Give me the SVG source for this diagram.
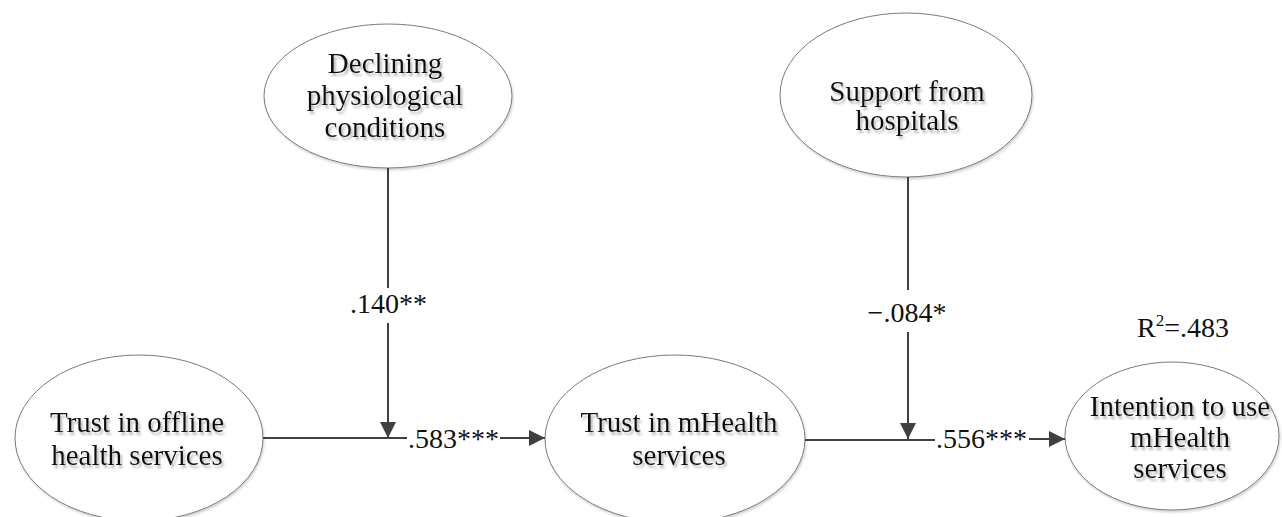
<svg xmlns="http://www.w3.org/2000/svg" width="1282" height="517" viewBox="0 0 1282 517">
  <defs>
    <marker id="arrow" markerUnits="userSpaceOnUse" markerWidth="17" markerHeight="16" refX="16" refY="8" orient="auto">
      <path d="M0,0 L16,8 L0,16 z" fill="#404040"/>
    </marker>
    <filter id="tshadow" x="-10%" y="-20%" width="120%" height="160%">
      <feDropShadow dx="2" dy="3" stdDeviation="1.2" flood-color="#9a9a9a" flood-opacity="0.7"/>
    </filter>
    <filter id="eshadow" x="-5%" y="-5%" width="110%" height="115%">
      <feDropShadow dx="1" dy="2" stdDeviation="1" flood-color="#c8c8c8" flood-opacity="0.8"/>
    </filter>
  </defs>
  <style>
    .node ellipse { fill: #ffffff; stroke: #7a7a7a; stroke-width: 1; filter: url(#eshadow); }
    .node text { font-family: "Liberation Serif", "Times New Roman", serif; font-size: 29px; fill: #111111; text-anchor: middle; filter: url(#tshadow); }
    .conn line { stroke: #404040; stroke-width: 2; fill: none; }
    .lbl { font-family: "Liberation Serif", "Times New Roman", serif; font-size: 28px; fill: #111111; }
  </style>
  <rect width="1282" height="517" fill="#ffffff"/>

  <g id="node-declining" class="node">
    <ellipse cx="388" cy="96" rx="124" ry="72"/>
    <text x="385" y="73">Declining</text>
    <text x="385" y="105">physiological</text>
    <text x="385" y="137">conditions</text>
  </g>

  <g id="node-support" class="node">
    <ellipse cx="906" cy="95" rx="126" ry="82"/>
    <text x="907" y="101">Support from</text>
    <text x="907" y="130">hospitals</text>
  </g>

  <g id="node-offline" class="node">
    <ellipse cx="139" cy="438" rx="124" ry="83"/>
    <text x="137" y="432">Trust in offline</text>
    <text x="137" y="465">health services</text>
  </g>

  <g id="node-mhealth" class="node">
    <ellipse cx="675" cy="439" rx="130" ry="84"/>
    <text x="679" y="432">Trust in mHealth</text>
    <text x="679" y="465">services</text>
  </g>

  <g id="node-intention" class="node">
    <ellipse cx="1172" cy="436" rx="107" ry="74"/>
    <text x="1180" y="416">Intention to use</text>
    <text x="1180" y="447">mHealth</text>
    <text x="1180" y="478">services</text>
  </g>

  <g id="connectors" class="conn">
    <line x1="388" y1="168" x2="388" y2="288"/>
    <line x1="388" y1="323" x2="388" y2="438" marker-end="url(#arrow)"/>
    <line x1="263" y1="438" x2="407" y2="438"/>
    <line x1="500" y1="438" x2="545" y2="438" marker-end="url(#arrow)"/>
    <line x1="908" y1="177" x2="908" y2="290"/>
    <line x1="908" y1="332" x2="908" y2="439" marker-end="url(#arrow)"/>
    <line x1="805" y1="440" x2="935" y2="440"/>
    <line x1="1029" y1="439" x2="1065" y2="439" marker-end="url(#arrow)"/>
  </g>

  <g id="labels">
    <text class="lbl" x="427" y="313" text-anchor="end">.140**</text>
    <text class="lbl" x="408" y="448">.583***</text>
    <text class="lbl" x="907" y="322" text-anchor="middle">−.084*</text>
    <text class="lbl" x="936" y="448">.556***</text>
    <text class="lbl" x="1137" y="337">R<tspan dy="-11" font-size="17">2</tspan><tspan dy="11">=.483</tspan></text>
  </g>
</svg>
